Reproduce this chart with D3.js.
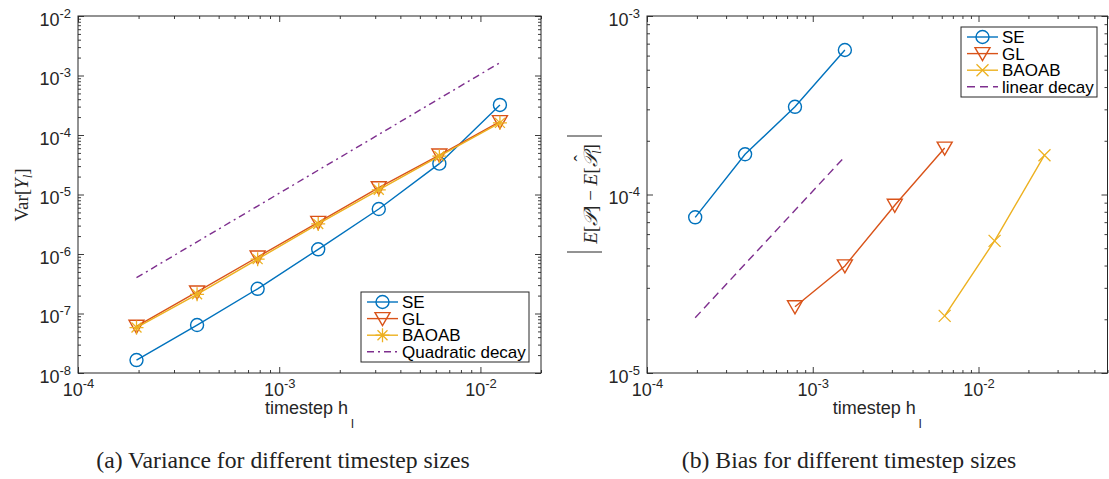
<!DOCTYPE html>
<html>
<head>
<meta charset="utf-8">
<script src="https://cdn.jsdelivr.net/npm/d3@7"></script>
<style>
  body { margin: 0; background: #fff; }
  svg { display: block; }
</style>
</head>
<body>
<div id="chart"></div>
<script>
// timestep sizes h_l
const hLevels = [1.953125e-4, 3.90625e-4, 7.8125e-4, 1.5625e-3, 3.125e-3, 6.25e-3, 1.25e-2];

// (a) variance of Y_l
const varSE = [1.65e-8, 6.4e-8, 2.6e-7, 1.2e-6, 5.7e-6, 3.3e-5, 3.2e-4];
const varGL = [6.1e-8, 2.3e-7, 8.9e-7, 3.4e-6, 1.3e-5, 4.6e-5, 1.68e-4];
const varBAOAB = [5.8e-8, 2.1e-7, 8.2e-7, 3.2e-6, 1.2e-5, 4.4e-5, 1.6e-4];
const varQuadratic = [4.0e-7, 1.6e-6, 6.4e-6, 2.56e-5, 1.02e-4, 4.1e-4, 1.64e-3];

// (b) bias
const biasHSE = [1.953125e-4, 3.90625e-4, 7.8125e-4, 1.5625e-3];
const biasSE = [7.45e-5, 1.68e-4, 3.1e-4, 6.45e-4];
const biasHGL = [7.8125e-4, 1.5625e-3, 3.125e-3, 6.25e-3];
const biasGL = [2.35e-5, 3.98e-5, 8.7e-5, 1.82e-4];
const biasHBAOAB = [6.25e-3, 1.25e-2, 2.5e-2];
const biasBAOAB = [2.09e-5, 5.5e-5, 1.66e-4];
const biasHLinear = [1.953125e-4, 3.90625e-4, 7.8125e-4, 1.5625e-3];
const biasLinear = [2.04e-5, 4.08e-5, 8.16e-5, 1.63e-4];

// tick labels (powers of ten)
const xTicksA = [1e-4, 1e-3, 1e-2];
const yTicksA = [1e-8, 1e-7, 1e-6, 1e-5, 1e-4, 1e-3, 1e-2];
const xTicksB = [1e-4, 1e-3, 1e-2];
const yTicksB = [1e-5, 1e-4, 1e-3];

const width = 1109, height = 479;
const axisColor = "#262626";
const colors = { SE: "#0072BD", GL: "#D95319", BAOAB: "#EDB120", decay: "#7E2F8E" };
const sans = "'Liberation Sans', Arial, Helvetica, sans-serif";
const serif = "'Liberation Serif', 'Times New Roman', serif";

const svg = d3.select("#chart").append("svg")
  .attr("width", width)
  .attr("height", height);

// marker drawing
function marker(g, type, color) {
  if (type === "circle") {
    g.append("circle").attr("r", 6.5).attr("fill", "none").attr("stroke", color).attr("stroke-width", 1.4);
  } else if (type === "triangle") {
    g.append("path").attr("d", "M-7.5,-6L7.5,-6L0,7Z").attr("fill", "none").attr("stroke", color).attr("stroke-width", 1.4);
  } else if (type === "star") {
    g.append("path").attr("d", "M-7,0L7,0M0,-7L0,7M-5,-5L5,5M-5,5L5,-5").attr("stroke", color).attr("stroke-width", 1.3);
  } else if (type === "x") {
    g.append("path").attr("d", "M-6,-6L6,6M-6,6L6,-6").attr("stroke", color).attr("stroke-width", 1.3);
  }
}

function powLabel(sel) {
  sel.each(function(d) {
    const t = d3.select(this).text("");
    t.append("tspan").text("10");
    t.append("tspan").attr("dy", -8).attr("font-size", 13).text(Math.round(Math.log10(d)));
  });
}

function drawPanel(p) {
  const x = d3.scaleLog().domain(p.xDomain).range([p.left, p.right]);
  const y = d3.scaleLog().domain(p.yDomain).range([p.bottom, p.top]);
  const g = svg.append("g");

  const minorX = x.ticks().filter(v => !p.xTicks.includes(v));
  const minorY = y.ticks().filter(v => !p.yTicks.includes(v));

  // ticks on all four sides, pointing inwards
  const sides = [
    [d3.axisBottom, x, p.xTicks, minorX, `translate(0,${p.bottom})`],
    [d3.axisTop, x, p.xTicks, minorX, `translate(0,${p.top})`],
    [d3.axisLeft, y, p.yTicks, minorY, `translate(${p.left},0)`],
    [d3.axisRight, y, p.yTicks, minorY, `translate(${p.right},0)`]
  ];
  sides.forEach(([ax, sc, major, minor, tr]) => {
    [[major, -6], [minor, -3]].forEach(([vals, size]) => {
      const a = g.append("g").attr("transform", tr)
        .call(ax(sc).tickValues(vals).tickSize(size).tickFormat(""));
      a.select(".domain").remove();
      a.selectAll("line").attr("stroke", axisColor).attr("stroke-width", 0.9);
    });
  });

  g.append("rect")
    .attr("x", p.left).attr("y", p.top)
    .attr("width", p.right - p.left).attr("height", p.bottom - p.top)
    .attr("fill", "none").attr("stroke", axisColor).attr("stroke-width", 1);

  // tick labels
  const xl = g.append("g").attr("transform", `translate(0,${p.bottom})`)
    .call(d3.axisBottom(x).tickValues(p.xTicks).tickSize(0));
  xl.select(".domain").remove();
  xl.selectAll("text").attr("y", 23).attr("dy", 0).attr("dx", 0)
    .attr("font-family", sans).attr("font-size", 18).attr("fill", axisColor)
    .call(powLabel);

  const yl = g.append("g").attr("transform", `translate(${p.left},0)`)
    .call(d3.axisLeft(y).tickValues(p.yTicks).tickSize(0));
  yl.select(".domain").remove();
  yl.selectAll("text").attr("x", -7).attr("dy", 9)
    .attr("font-family", sans).attr("font-size", 18).attr("fill", axisColor)
    .call(powLabel);

  // x axis title
  const xt = g.append("text")
    .attr("x", (p.left + p.right) / 2).attr("y", 414)
    .attr("text-anchor", "middle")
    .attr("font-family", sans).attr("font-size", 18).attr("fill", axisColor);
  xt.append("tspan").text("timestep h");
  xt.append("tspan").attr("dx", 3).attr("dy", 14).attr("font-size", 13).text("l");

  // series
  const line = d3.line().x(d => x(d[0])).y(d => y(d[1]));
  p.series.forEach(s => {
    const pts = s.h.map((h, i) => [h, s.v[i]]);
    g.append("path").datum(pts)
      .attr("d", line)
      .attr("fill", "none")
      .attr("stroke", s.color)
      .attr("stroke-width", 1.4)
      .attr("stroke-dasharray", s.dash || null);
    if (s.marker) {
      g.selectAll(null).data(pts).join("g")
        .attr("transform", d => `translate(${x(d[0])},${y(d[1])})`)
        .each(function() { marker(d3.select(this), s.marker, s.color); });
    }
  });

  // legend
  const L = p.legend;
  const lg = g.append("g").attr("transform", `translate(${L.x},${L.y})`);
  lg.append("rect").attr("width", L.w).attr("height", L.h)
    .attr("fill", "#fff").attr("stroke", axisColor).attr("stroke-width", 1);
  p.series.forEach((s, i) => {
    const row = lg.append("g").attr("transform", `translate(0,${10 + i * 16.6})`);
    row.append("line").attr("x1", 6).attr("x2", 37)
      .attr("stroke", s.color).attr("stroke-width", 1.4)
      .attr("stroke-dasharray", s.dash || null);
    if (s.marker) marker(row.append("g").attr("transform", "translate(21.5,0)"), s.marker, s.color);
    row.append("text").attr("x", 41).attr("y", 6)
      .attr("font-family", sans).attr("font-size", 17).attr("fill", "#000")
      .text(s.name);
  });

  // caption
  g.append("text")
    .attr("x", p.captionX).attr("y", 468)
    .attr("text-anchor", "middle")
    .attr("font-family", serif).attr("font-size", 23.7).attr("fill", "#222")
    .text(p.caption);

  return g;
}

const gA = drawPanel({
  left: 78, right: 541, top: 16, bottom: 373,
  xDomain: [1e-4, 2e-2], yDomain: [1e-8, 1e-2],
  xTicks: xTicksA, yTicks: yTicksA,
  series: [
    { name: "SE", h: hLevels, v: varSE, color: colors.SE, marker: "circle" },
    { name: "GL", h: hLevels, v: varGL, color: colors.GL, marker: "triangle" },
    { name: "BAOAB", h: hLevels, v: varBAOAB, color: colors.BAOAB, marker: "star" },
    { name: "Quadratic decay", h: hLevels, v: varQuadratic, color: colors.decay, dash: "7,4,2,4" }
  ],
  legend: { x: 361, y: 292, w: 168, h: 70 },
  caption: "(a) Variance for different timestep sizes", captionX: 283
});

const gB = drawPanel({
  left: 647, right: 1107.5, top: 16, bottom: 373,
  xDomain: [1e-4, 6e-2], yDomain: [1e-5, 1e-3],
  xTicks: xTicksB, yTicks: yTicksB,
  series: [
    { name: "SE", h: biasHSE, v: biasSE, color: colors.SE, marker: "circle" },
    { name: "GL", h: biasHGL, v: biasGL, color: colors.GL, marker: "triangle" },
    { name: "BAOAB", h: biasHBAOAB, v: biasBAOAB, color: colors.BAOAB, marker: "x" },
    { name: "linear decay", h: biasHLinear, v: biasLinear, color: colors.decay, dash: "8,5" }
  ],
  legend: { x: 961, y: 27, w: 136, h: 70 },
  caption: "(b) Bias for different timestep sizes", captionX: 849
});

// y axis titles (LaTeX style)
const ya = svg.append("text")
  .attr("transform", "translate(28,195) rotate(-90)")
  .attr("text-anchor", "middle")
  .attr("font-family", serif).attr("font-size", 19).attr("fill", axisColor);
ya.append("tspan").text("Var[");
ya.append("tspan").attr("font-style", "italic").text("Y");
ya.append("tspan").attr("font-style", "italic").attr("font-size", 13).attr("dy", 4).text("l");
ya.append("tspan").attr("dy", -4).text("]");

const yb = svg.append("g").attr("transform", "translate(597,194) rotate(-90)");
const ybt = yb.append("text")
  .attr("text-anchor", "middle")
  .attr("font-family", serif).attr("font-size", 19).attr("fill", axisColor);
ybt.append("tspan").attr("font-style", "italic").text("E");
ybt.append("tspan").text("[");
ybt.append("tspan").attr("font-style", "italic").text("𝒫");
ybt.append("tspan").text("] \u2212 ");
ybt.append("tspan").attr("font-style", "italic").text("E");
ybt.append("tspan").text("[");
ybt.append("tspan").attr("font-style", "italic").text("𝒫");
ybt.append("tspan").attr("dx", -8).attr("dy", -10).text("\u02C6");
ybt.append("tspan").attr("font-style", "italic").attr("font-size", 13).attr("dx", 1).attr("dy", 14).text("l");
ybt.append("tspan").attr("dy", -4).text("]");
[-58, 58].forEach(dx => {
  yb.append("line").attr("x1", dx).attr("x2", dx).attr("y1", -30).attr("y2", 5)
    .attr("stroke", axisColor).attr("stroke-width", 1);
});
</script>
</body>
</html>
